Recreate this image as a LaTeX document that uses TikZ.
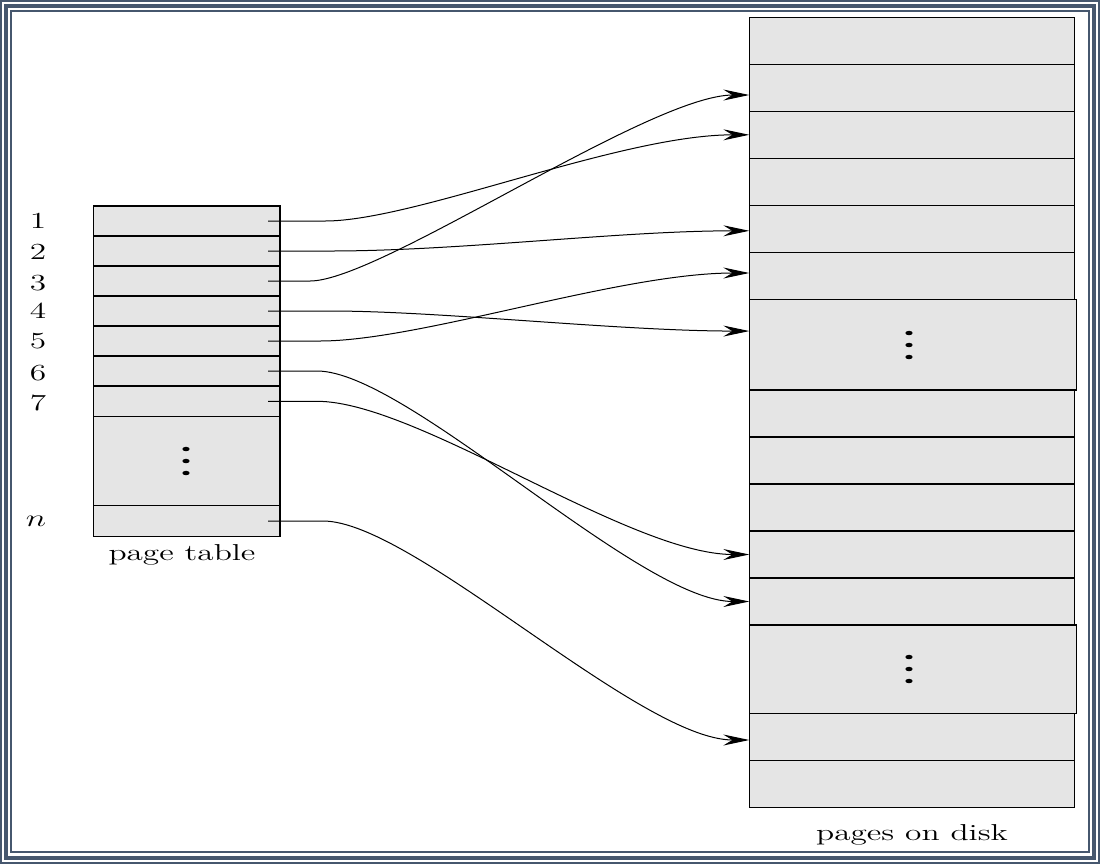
\documentclass[tikz,border=0pt]{standalone}
\usetikzlibrary{arrows.meta}

\definecolor{framecol}{RGB}{70,87,110}
\definecolor{cellgray}{gray}{0.9}

\begin{document}
\begin{tikzpicture}[
            x = 0.5pt, y = -0.5pt,
            every node/.style={inner sep=0pt, outer sep=0pt},
            cell/.style={draw, fill=cellgray, line width=.75pt, minimum width=93.35pt, minimum height=15pt},
            disk/.style={cell, minimum width=162.5pt, minimum height=23.5pt},
            lbl/.style={font=\fontsize{11.5}{13}\selectfont, xscale=1.45},
            link/.style={line width=.5pt, -{Stealth[length=13pt, width=5.5pt, inset=4.5pt]}},
            frame/.style={draw=framecol},
            ]

        \useasboundingbox (0, 0) rectangle (1100, 864);

        % frame
        \draw[frame, line width=1pt] (1, 1) rectangle (1099, 863);
        \draw[frame, line width=2pt] (6, 6) rectangle (1094, 858);
        \draw[frame, line width=1pt] (11, 11) rectangle (1089, 852);

        % page table
        \node[cell] (p1) at (186.7, 221) {};
        \node[cell] (p2) at (186.7, 251) {};
        \node[cell] (p3) at (186.7, 281) {};
        \node[cell] (p4) at (186.7, 311) {};
        \node[cell] (p5) at (186.7, 341) {};
        \node[cell] (p6) at (186.7, 371) {};
        \node[cell, minimum height=15.3pt] (p7) at (186.7, 401.3) {};
        \node[cell, minimum height=44.3pt] (pdots) at (186.7, 461) {};
        \node[cell, minimum height=15.7pt] (pn) at (186.7, 521) {};

        \fill (186, 449) ellipse [x radius=1.8pt, y radius=1.1pt];
        \fill (186, 461) ellipse [x radius=1.8pt, y radius=1.1pt];
        \fill (186, 473) ellipse [x radius=1.8pt, y radius=1.1pt];

        \node[lbl] (l1) at (38, 221) {1};
        \node[lbl] (l2) at (38, 252) {2};
        \node[lbl] (l3) at (38, 283) {3};
        \node[lbl] (l4) at (38, 311) {4};
        \node[lbl] (l5) at (38, 341) {5};
        \node[lbl] (l6) at (38, 373) {6};
        \node[lbl] (l7) at (38, 403) {7};
        \node[lbl] (ln) at (36, 521) {$n$};
        \node[lbl, anchor=base] (ptab) at (182, 560) {page table};

        % pages on disk
        \node[disk] (d1) at (911.8, 40.8) {};
        \node[disk] (d2) at (911.8, 87.8) {};
        \node[disk] (d3) at (911.8, 134.8) {};
        \node[disk] (d4) at (911.8, 181.8) {};
        \node[disk] (d5) at (911.8, 228.8) {};
        \node[disk] (d6) at (911.8, 275.8) {};
        \node[disk, minimum width=163.7pt, minimum height=45.35pt] (ddots1) at (913, 344.65) {};
        \node[disk] (d7) at (911.8, 413.5) {};
        \node[disk] (d8) at (911.8, 460.5) {};
        \node[disk] (d9) at (911.8, 507.5) {};
        \node[disk] (d10) at (911.8, 554.5) {};
        \node[disk] (d11) at (911.8, 601.5) {};
        \node[disk, minimum width=163.7pt, minimum height=44.15pt] (ddots2) at (913, 669.15) {};
        \node[disk] (d12) at (911.8, 736.8) {};
        \node[disk] (d13) at (911.8, 783.8) {};

        \fill (909, 333) ellipse [x radius=1.8pt, y radius=1.1pt];
        \fill (909, 345) ellipse [x radius=1.8pt, y radius=1.1pt];
        \fill (909, 357) ellipse [x radius=1.8pt, y radius=1.1pt];
        \fill (909, 657) ellipse [x radius=1.8pt, y radius=1.1pt];
        \fill (909, 669) ellipse [x radius=1.8pt, y radius=1.1pt];
        \fill (909, 681) ellipse [x radius=1.8pt, y radius=1.1pt];

        \node[lbl, anchor=base] (pdisk) at (912, 840) {pages on disk};

        % mapping
        \draw[link] ([xshift=-6pt]p1.east) -- ++(57, 0) .. controls +(90, 0) and +(-130, 0) .. (d3.west);
        \draw[link] ([xshift=-6pt]p2.east) -- ++(62, 0) .. controls +(130, 0) and +(-130, 0) .. ([yshift=-1pt]d5.west);
        \draw[link] ([xshift=-6pt]p3.east) -- ++(42, 0) .. controls +(70, 0) and +(-100, 0) .. ([yshift=-3.6pt]d2.west);
        \draw[link] ([xshift=-6pt]p4.east) -- ++(62, 0) .. controls +(110, 0) and +(-130, 0) .. ([yshift=6.8pt]ddots1.west);
        \draw[link] ([xshift=-6pt]p5.east) -- ++(52, 0) .. controls +(100, 0) and +(-130, 0) .. ([yshift=1.4pt]d6.west);
        \draw[link] ([xshift=-6pt]p6.east) -- ++(49, 0) .. controls +(90, 0) and +(-110, 0) .. (d11.west);
        \draw[link] ([xshift=-6pt]p7.east) -- ++(49, 0) .. controls +(100, 0) and +(-120, 0) .. (d10.west);
        \draw[link] ([xshift=-6pt]pn.east) -- ++(55, 0) .. controls +(90, 0) and +(-110, 0) .. ([yshift=-1.6pt]d12.west);
    \end{tikzpicture}
\end{document}
